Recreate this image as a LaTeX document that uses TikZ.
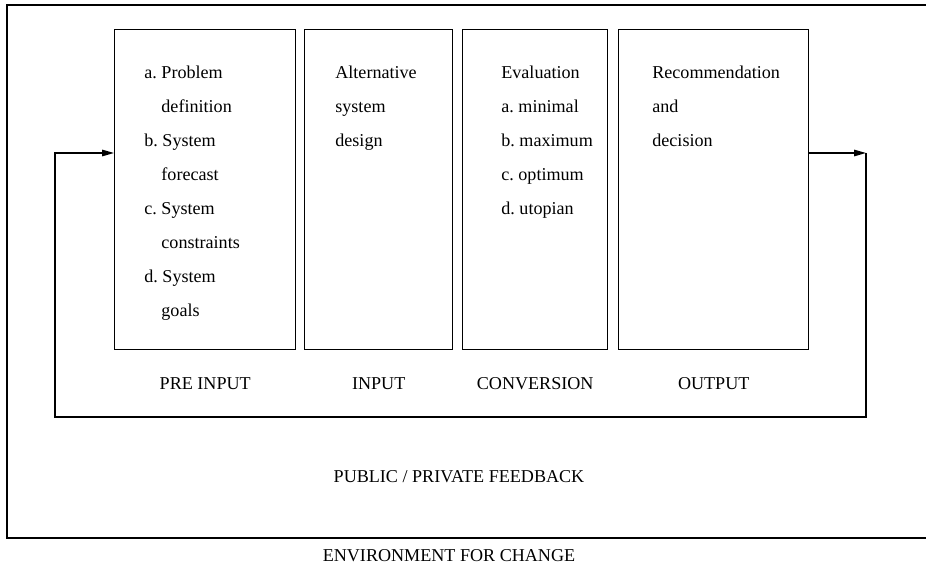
\documentclass[tikz,border=0pt]{standalone}
\usepackage{fontspec}
\setmainfont{Liberation Serif}
\usetikzlibrary{positioning, arrows.meta, calc}

\begin{document}
\begin{tikzpicture}[
        every node/.style={font=\fontsize{10.3pt}{19.35pt}\selectfont, inner sep=0pt},
        stufe/.style={draw, line width=0.8pt, rectangle, minimum height=6.4cm, anchor=north west},
        inhalt/.style={align=left},
        pfeil/.style={-{Triangle[length=2.4mm, width=1.3mm]}, line width=0.8pt}
    ]
    \useasboundingbox (0,0) rectangle (18.52,11.4);

    % Umgebung (Rahmen, rechts angeschnitten)
    \draw[line width=0.9pt] (0.14,0.64) rectangle (18.60,11.3);

    % Vier Stufen
    \node[stufe, minimum width=3.62cm] at (2.28,10.82) (preinput) {};
    \node[stufe, minimum width=2.96cm] at (6.08,10.82) (input) {};
    \node[stufe, minimum width=2.90cm] at (9.24,10.82) (conversion) {};
    \node[stufe, minimum width=3.80cm] at (12.36,10.82) (output) {};

    % Inhalte der Stufen
    \node[inhalt, below right=0.74cm and 0.60cm of preinput.north west] (t-pre)
        {a.~Problem\\ \hphantom{a.~}definition\\ b.~System\\ \hphantom{a.~}forecast\\
         c.~System\\ \hphantom{a.~}constraints\\ d.~System\\ \hphantom{a.~}goals};
    \node[inhalt, below right=0.74cm and 0.62cm of input.north west] (t-in)
        {Alternative\\ system\\ design};
    \node[inhalt, below right=0.74cm and 0.78cm of conversion.north west] (t-conv)
        {Evaluation\\ a.~minimal\\ b.~maximum\\ c.~optimum\\ d.~utopian};
    \node[inhalt, below right=0.74cm and 0.68cm of output.north west] (t-out)
        {Recommendation\\ and\\ decision};

    % Beschriftungen unter den Stufen
    \node[below=0.54cm of preinput] (l-pre) {PRE INPUT};
    \node[below=0.54cm of input] (l-in) {INPUT};
    \node[below=0.54cm of conversion] (l-conv) {CONVERSION};
    \node[below=0.54cm of output] (l-out) {OUTPUT};

    % Rueckkopplung
    \coordinate (ein) at ($(preinput.north west)+(0,-2.48)$);
    \coordinate (aus) at ($(output.north east)+(0,-2.48)$);
    \coordinate (rueck-l) at (1.10,3.06);
    \coordinate (rueck-r) at (17.32,3.06);
    \draw[pfeil] (aus) -- (aus -| rueck-r);
    \draw[pfeil] (aus -| rueck-r) -- (rueck-r) -- (rueck-l) -- (ein -| rueck-l) -- (ein);

    \node at (9.18,1.86) (feedback) {PUBLIC / PRIVATE FEEDBACK};
    \node at (8.98,0.28) (umwelt) {ENVIRONMENT FOR CHANGE};

\end{tikzpicture}
\end{document}
